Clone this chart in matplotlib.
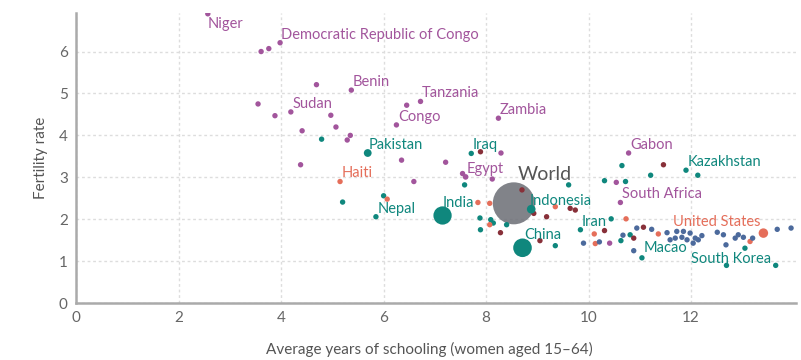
import matplotlib.pyplot as plt
import numpy as np

plt.rcParams['font.family'] = ['Lato', 'DejaVu Sans']

region_colors = {
    'af': '#a2559c',   # Africa
    'as': '#0f877d',   # Asia
    'am': '#e56e5a',   # Americas
    'me': '#883039',   # Middle East / N. Africa
    'eu': '#4c6a9c',   # Europe
    'world': '#6b6d75',
}

# labelled countries
names = ['Niger', 'Democratic Republic of Congo', 'Benin', 'Sudan', 'Tanzania', 'Congo',
         'Zambia', 'Pakistan', 'Iraq', 'Egypt', 'Haiti', 'World', 'India', 'Nepal',
         'Indonesia', 'China', 'Gabon', 'Kazakhstan', 'South Africa', 'Iran',
         'United States', 'Macao', 'South Korea']
name_school = [2.57, 3.98, 5.37, 4.19, 6.72, 6.25, 8.24, 5.69, 7.71, 7.60, 5.15, 8.54, 7.15, 5.85,
               8.88, 8.71, 10.78, 11.90, 10.62, 9.84, 13.41, 11.04, 13.65]
name_fert = [6.90, 6.21, 5.08, 4.56, 4.81, 4.25, 4.41, 3.58, 3.57, 3.01, 2.90, 2.38, 2.09, 2.06,
             2.24, 1.32, 3.58, 3.17, 2.40, 1.75, 1.67, 1.08, 0.90]
name_region = ['af', 'af', 'af', 'af', 'af', 'af', 'af', 'as', 'as', 'af', 'am', 'world', 'as', 'as',
               'as', 'as', 'af', 'as', 'af', 'as', 'am', 'as', 'as']
name_pop = [21, 81, 11, 40, 57, 5, 17, 207, 38, 97, 11, 7550, 1340, 28,
            264, 1390, 2, 18, 57, 81, 325, 0.6, 51]

# other countries, by region
africa_x = [3.61, 3.76, 4.69, 3.55, 3.88, 4.97, 5.07, 4.41, 5.35, 5.29, 6.45, 4.38, 6.35,
            7.21, 6.59, 8.29, 7.54, 8.12, 10.54, 10.41]
africa_y = [6.00, 6.07, 5.21, 4.75, 4.47, 4.48, 4.20, 4.11, 4.00, 3.89, 4.72, 3.30, 3.41,
            3.36, 2.90, 3.58, 3.09, 2.96, 2.88, 1.43]

asia_x = [4.79, 5.20, 6.00, 7.58, 7.88, 8.09, 8.14, 7.89, 8.40, 9.35, 9.61, 10.44, 10.31,
          10.65, 10.72, 11.21, 12.13, 10.63, 10.81, 12.69, 13.05]
asia_y = [3.91, 2.41, 2.56, 2.82, 2.03, 1.99, 1.91, 1.75, 1.87, 1.37, 2.82, 2.01, 2.92,
          3.28, 2.90, 3.05, 3.05, 1.49, 1.63, 0.90, 1.31]

americas_x = [7.84, 8.07, 8.07, 9.35, 10.73, 10.11, 10.13, 11.36, 13.15, 6.07]
americas_y = [2.40, 2.38, 1.87, 2.30, 2.01, 1.65, 1.42, 1.65, 1.47, 2.48]

mideast_x = [8.70, 8.28, 9.18, 9.05, 9.64, 9.74, 10.31, 10.88, 11.07, 11.46, 7.89, 8.93]
mideast_y = [2.70, 1.68, 2.06, 1.49, 2.26, 2.22, 1.73, 1.55, 1.81, 3.30, 3.61, 2.14]

europe_x = [9.90, 10.21, 10.67, 10.94, 11.23, 10.88, 11.53, 11.59, 11.69, 11.72, 11.82, 11.85,
            11.92, 11.98, 12.04, 12.08, 12.21, 12.14, 12.51, 12.63, 12.68, 12.86, 12.92,
            13.02, 13.20, 13.68, 13.95]
europe_y = [1.43, 1.46, 1.62, 1.79, 1.76, 1.25, 1.68, 1.51, 1.55, 1.71, 1.57, 1.71,
            1.51, 1.67, 1.43, 1.55, 1.61, 1.51, 1.69, 1.63, 1.39, 1.55, 1.63,
            1.57, 1.55, 1.76, 1.79]

# label offsets in points (dx, dy, ha, va)
default_off = (1, 3, 'left', 'baseline')
label_off = {
    'Niger': (0, -2, 'left', 'top'),
    'World': (2.5, 16.5, 'left', 'baseline'),
    'India': (0, 6, 'left', 'baseline'),
    'China': (1.5, 6.5, 'left', 'baseline'),
    'Indonesia': (-1, 3, 'left', 'baseline'),
    'Macao': (1, 4, 'left', 'baseline'),
    'United States': (-2, 5, 'right', 'baseline'),
    'South Korea': (-3.5, 1.5, 'right', 'baseline'),
}


def marker_size(pop):
    r_px = max(2.7, 0.5 + 20.5 * np.sqrt(pop / 7550))
    return (1.44 * r_px) ** 2


fig = plt.figure(figsize=(8.01, 3.6), dpi=100)
ax = fig.add_axes([0.095, 0.158, 0.899, 0.806])

small = marker_size(0)
for xs, ys, reg in [(africa_x, africa_y, 'af'), (asia_x, asia_y, 'as'),
                    (americas_x, americas_y, 'am'), (mideast_x, mideast_y, 'me'),
                    (europe_x, europe_y, 'eu')]:
    ax.scatter(xs, ys, s=small, color=region_colors[reg], edgecolors='none', zorder=3)

for name, x, y, reg, pop in zip(names, name_school, name_fert, name_region, name_pop):
    z = 2 if reg == 'world' else 3
    a = 0.85 if reg == 'world' else 1
    ax.scatter([x], [y], s=marker_size(pop), color=region_colors[reg], alpha=a,
               edgecolors='none', zorder=z)
    dx, dy, ha, va = label_off.get(name, default_off)
    tcol = '#555555' if reg == 'world' else region_colors[reg]
    fs = 14 if reg == 'world' else 10.5
    ax.annotate(name, (x, y), xytext=(dx, dy), textcoords='offset points',
                ha=ha, va=va, fontsize=fs, color=tcol, zorder=4)

ax.set_xlim(0, 14.05)
ax.set_ylim(0, 6.92)
ax.set_xticks([0, 2, 4, 6, 8, 10, 12])
ax.set_yticks([0, 1, 2, 3, 4, 5, 6])
ax.tick_params(length=0, labelsize=11, labelcolor='#666666', pad=6)

for s in ['top', 'right']:
    ax.spines[s].set_visible(False)
for s in ['left', 'bottom']:
    ax.spines[s].set_color('#aaaaaa')
    ax.spines[s].set_linewidth(1.8)

ax.grid(True, color='#dddddd', linestyle=(0, (2, 2)), linewidth=1, zorder=0)
ax.set_axisbelow(True)

ax.set_xlabel('Average years of schooling (women aged 15–64)', fontsize=11,
              color='#555555')
ax.set_ylabel('Fertility rate', fontsize=11, color='#555555')
ax.xaxis.set_label_coords(0.49, -0.135)
ax.yaxis.set_label_coords(-0.039, 0.5)

plt.savefig('out.png', dpi=100)
